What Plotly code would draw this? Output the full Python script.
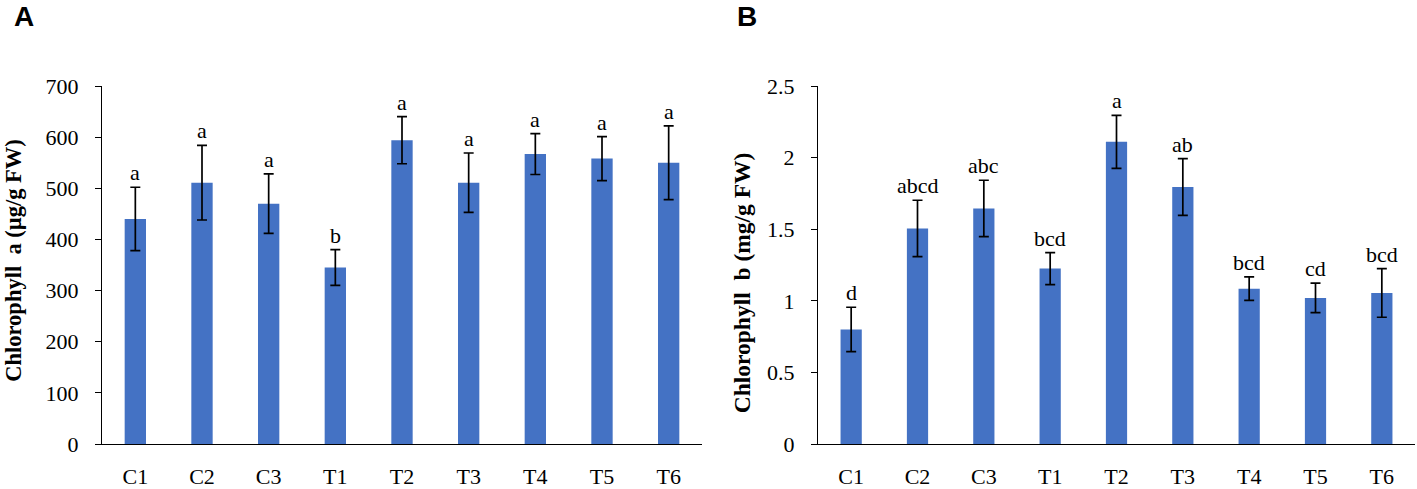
import plotly.graph_objects as go

categories = ["C1", "C2", "C3", "T1", "T2", "T3", "T4", "T5", "T6"]

chl_a = [440, 511, 470, 345, 594, 511, 567, 558, 550]
chl_a_err = [62, 73, 58, 35, 46, 58, 40, 43, 72]
chl_a_letters = ["a", "a", "a", "b", "a", "a", "a", "a", "a"]

chl_b = [0.80, 1.505, 1.645, 1.225, 2.11, 1.795, 1.085, 1.02, 1.055]
chl_b_err = [0.155, 0.197, 0.197, 0.112, 0.185, 0.198, 0.082, 0.103, 0.17]
chl_b_letters = ["d", "abcd", "abc", "bcd", "a", "ab", "bcd", "cd", "bcd"]

W, H = 1417, 489
BAR = "#4472C4"
SERIF = "Liberation Serif, Times New Roman, serif"
SANS = "Liberation Sans, Arial, sans-serif"

mt, mb = 86, 38.3
ph = H - mt - mb


def ypaper(py):
    return (H - mb - py) / ph


fig = go.Figure()

for xa, ya, vals, errs in [("x", "y", chl_a, chl_a_err), ("x2", "y2", chl_b, chl_b_err)]:
    fig.add_trace(go.Bar(
        x=categories, y=vals, xaxis=xa, yaxis=ya,
        marker=dict(color=BAR, line=dict(width=0)),
        width=0.32,
        error_y=dict(type="data", array=errs, visible=True, color="black",
                     thickness=1.7, width=5),
        showlegend=False,
    ))

annotations = []
for xref, yref, vals, errs, letters in [("x", "y", chl_a, chl_a_err, chl_a_letters),
                                         ("x2", "y2", chl_b, chl_b_err, chl_b_letters)]:
    for c, v, e, l in zip(categories, vals, errs, letters):
        annotations.append(dict(x=c, y=v + e, xref=xref, yref=yref, text=l,
                                showarrow=False, yanchor="bottom", yshift=0,
                                font=dict(family=SERIF, size=22, color="black")))

# panel labels
annotations.append(dict(x=12 / W, y=ypaper(-3), xref="paper", yref="paper", text="<b>A</b>",
                        showarrow=False, xanchor="left", yanchor="top",
                        font=dict(family=SANS, size=28, color="black")))
annotations.append(dict(x=735 / W, y=ypaper(-3), xref="paper", yref="paper", text="<b>B</b>",
                        showarrow=False, xanchor="left", yanchor="top",
                        font=dict(family=SANS, size=28, color="black")))

# y-axis titles
annotations.append(dict(x=14 / W, y=ypaper(264), xref="paper", yref="paper",
                        text="<b>Chlorophyll  a (µg/g FW)</b>", textangle=-90,
                        showarrow=False, xanchor="center", yanchor="middle",
                        font=dict(family=SERIF, size=22.5, color="black")))
annotations.append(dict(x=742 / W, y=ypaper(287), xref="paper", yref="paper",
                        text="<b>Chlorophyll  b (mg/g FW)</b>", textangle=-90,
                        showarrow=False, xanchor="center", yanchor="middle",
                        font=dict(family=SERIF, size=23.5, color="black")))

tickfont = dict(family=SERIF, size=22, color="black")
xcommon = dict(type="category", showline=True, linecolor="black", linewidth=1.3,
               ticks="", showgrid=False, tickfont=tickfont, ticklabelstandoff=12)
ycommon = dict(showline=True, linecolor="black", linewidth=1.3, ticks="outside",
               ticklen=6, tickwidth=1.3, tickcolor="black", showgrid=False,
               zeroline=False, tickfont=tickfont, ticklabelstandoff=12)

fig.update_layout(
    width=W, height=H,
    margin=dict(l=0, r=0, t=mt, b=mb),
    plot_bgcolor="white", paper_bgcolor="white",
    xaxis=dict(xcommon, domain=[102 / W, 702 / W], anchor="y"),
    xaxis2=dict(xcommon, domain=[818 / W, 1415 / W], anchor="y2"),
    yaxis=dict(ycommon, range=[0, 700], dtick=100, anchor="x"),
    yaxis2=dict(ycommon, range=[0, 2.5], dtick=0.5, anchor="x2"),
    annotations=annotations,
)

fig.write_html("out.html", config={"displayModeBar": False},
               post_script="document.body.style.margin='0';document.body.style.overflow='hidden';")
